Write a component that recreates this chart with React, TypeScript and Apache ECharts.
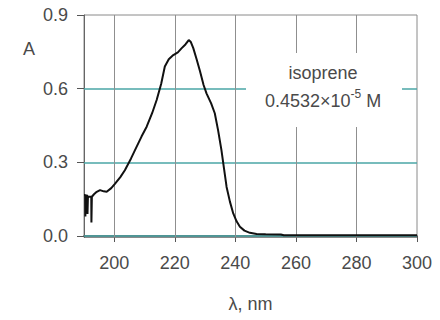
import React, { useEffect, useRef } from "react";
import * as echarts from "echarts";

const wavelengths = [
  190, 190.4, 190.45, 190.6, 191.1, 191.15, 191.3, 192.4, 192.45, 192.6, 193.3, 194.2,
  195.3, 196.5, 197.5, 199, 200.2, 202, 203.5, 205.5, 207.4, 209, 210.7, 212.5, 214,
  215.5, 216.7, 218, 219.5, 221, 222.2, 223.5, 224.6, 225.3, 226.1, 227.2, 228.3, 229.5,
  230.5, 232, 233.2, 234.3, 235.4, 236.3, 237.1, 238.2, 239.3, 240.4, 241.5, 243, 244.8,
  247, 250, 255, 256, 300,
];
const absorbance = [
  0.167, 0.167, 0.08, 0.165, 0.165, 0.09, 0.16, 0.16, 0.055, 0.16, 0.17, 0.18,
  0.187, 0.182, 0.18, 0.195, 0.212, 0.24, 0.268, 0.315, 0.364, 0.405, 0.445, 0.5, 0.554,
  0.62, 0.69, 0.72, 0.737, 0.748, 0.764, 0.78, 0.798, 0.79, 0.765, 0.72, 0.672, 0.615,
  0.58, 0.54, 0.5, 0.43, 0.35, 0.27, 0.2, 0.14, 0.092, 0.06, 0.038, 0.022, 0.013,
  0.008, 0.007, 0.006, 0.003, 0.003,
];
const xTicks = [200, 220, 240, 260, 280, 300];
const xGrid = [200, 220, 240, 260, 280];
const yTicks = [0, 0.3, 0.6, 0.9];
const yGrid = [0, 0.3, 0.6];
const compoundName = "isoprene";

export default function App() {
  const ref = useRef<HTMLDivElement>(null);
  useEffect(() => {
    if (!ref.current) return;
    const chart = echarts.init(ref.current, null, { renderer: "svg" });
    const font = "Arial, 'Liberation Sans', sans-serif";
    const textColor = "#4a4a4a";
    chart.setOption({
      animation: false,
      backgroundColor: "#fff",
      grid: {
        left: 84,
        right: 23,
        top: 15,
        bottom: 82.5,
        show: true,
        borderColor: "#8a8a8a",
        borderWidth: 1,
      },
      xAxis: {
        type: "value",
        min: 190,
        max: 300,
        name: "λ, nm",
        nameLocation: "middle",
        nameGap: 57,
        nameTextStyle: { color: textColor, fontSize: 18, fontFamily: font },
        axisLine: { show: true, lineStyle: { color: "#333", width: 1.5 } },
        axisTick: { show: true, length: 6, customValues: xTicks, lineStyle: { color: "#555" } },
        axisLabel: {
          customValues: xTicks,
          color: textColor,
          fontSize: 18,
          fontFamily: font,
          margin: 16,
        },
        splitLine: { show: false },
      },
      yAxis: {
        type: "value",
        min: -0.006,
        max: 0.9,
        axisLine: { show: true, lineStyle: { color: "#666", width: 1 } },
        axisTick: { show: true, length: 7, customValues: yTicks, lineStyle: { color: "#555" } },
        axisLabel: {
          customValues: yTicks,
          color: textColor,
          fontSize: 18,
          fontFamily: font,
          margin: 16,
          formatter: (v: number) => v.toFixed(1),
        },
        splitLine: { show: false },
      },
      graphic: [
        {
          type: "rect",
          shape: { x: 246, y: 53, width: 156, height: 74 },
          style: { fill: "#fff" },
          z: 50,
        },
        {
          type: "text",
          x: 323,
          y: 73,
          style: {
            text: compoundName,
            fill: textColor,
            font: "18px Arial, 'Liberation Sans', sans-serif",
            align: "center",
            verticalAlign: "middle",
          },
          z: 51,
        },
        {
          type: "text",
          x: 323,
          y: 99,
          style: {
            text: "{b|0.4532×10}{s|-5}{b| M}",
            align: "center",
            verticalAlign: "middle",
            rich: {
              b: { fill: textColor, fontSize: 18, fontFamily: font, verticalAlign: "bottom", lineHeight: 22 },
              s: { fill: textColor, fontSize: 12, fontFamily: font, verticalAlign: "top", lineHeight: 22 },
            },
          },
          z: 51,
        },
        {
          type: "text",
          x: 29,
          y: 49,
          style: {
            text: "A",
            fill: textColor,
            font: "18px Arial, 'Liberation Sans', sans-serif",
            align: "center",
            verticalAlign: "middle",
          },
        },
      ],
      series: [
        {
          type: "line",
          data: [],
          z: 1,
          markLine: {
            silent: true,
            symbol: "none",
            label: { show: false },
            data: [
              ...yGrid.map((v) => ({ yAxis: v, lineStyle: { color: "#4aa6a6", width: 1.5, type: "solid" } })),
              ...xGrid.map((v) => ({ xAxis: v, lineStyle: { color: "#8f8f8f", width: 1, type: "solid" } })),
            ],
          },
        },
        {
          type: "line",
          data: wavelengths.map((w, i) => [w, absorbance[i]]),
          showSymbol: false,
          symbol: "none",
          lineStyle: { color: "#111", width: 2 },
          z: 60,
        },
      ],
    });
    return () => chart.dispose();
  }, []);
  return <div ref={ref} style={{ width: 440, height: 320, position: "absolute", left: 0, top: 0 }} />;
}
